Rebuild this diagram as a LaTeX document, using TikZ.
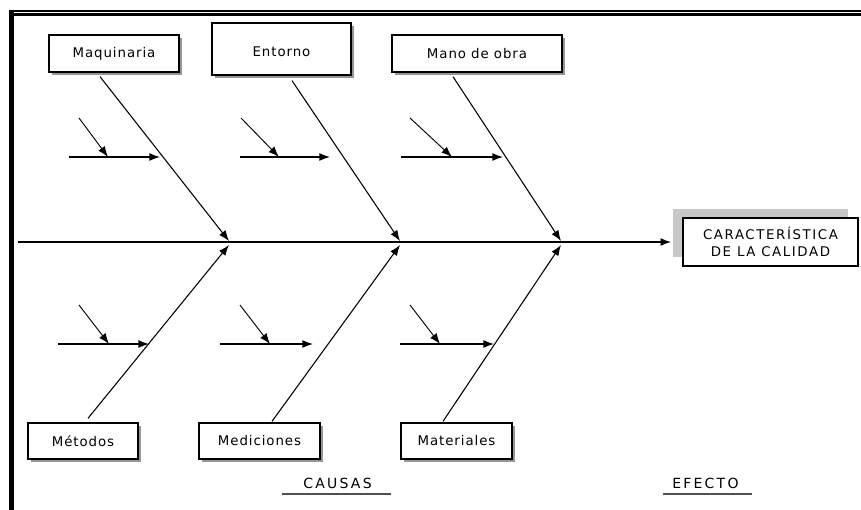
\documentclass[tikz,border=0pt]{standalone}
\usepackage{fontspec}
\setmainfont{DejaVu Sans}
\newfontfamily\boxfont[LetterSpace=7]{DejaVu Sans}
\newfontfamily\effectfont[LetterSpace=12]{DejaVu Sans}
\newfontfamily\tagfont[LetterSpace=16]{DejaVu Sans}
\usepackage{tikz}
\usetikzlibrary{arrows.meta,calc,shadows}
\definecolor{shade}{RGB}{150,150,150}
\definecolor{pale}{RGB}{200,200,200}
\definecolor{rule}{RGB}{80,80,80}

\begin{document}
\begin{tikzpicture}[x=0.75pt,y=-0.75pt,
  cause/.style={draw, line width=1pt, fill=white, inner sep=0pt,
    font=\boxfont\fontsize{10}{12}\selectfont,
    drop shadow={shadow xshift=2.2pt, shadow yshift=-2.2pt, fill=shade, opacity=1}},
  bone/.style={line width=0.8pt, -{Latex[length=8pt,width=6pt]}},
  subbone/.style={line width=1pt, -{Latex[length=8pt,width=6pt]}},
  twig/.style={line width=0.7pt, -{Latex[length=8pt,width=6pt]}}]
  \useasboundingbox (0,0) rectangle (861,510);
  %% 1. Frame
  \draw[line width=0.8pt] (10,11) -- (861,11);
  \draw[line width=2pt] (10,14.2) -- (861,14.2);
  \draw[line width=3.5pt] (11.5,10) -- (11.5,510);

  %% 2. Boxes
  \node[cause, minimum width=97.5pt, minimum height=27.75pt] (maq) at (114,53.5) {Maquinaria};
  \node[cause, minimum width=104.25pt, minimum height=39pt] (ent) at (281.5,49) {\raisebox{-6pt}[0pt][0pt]{Entorno}};
  \node[cause, minimum width=127.5pt, minimum height=27.75pt] (mano) at (477,53.5) {Mano de obra};
  \node[cause, minimum width=82.5pt, minimum height=27pt] (met) at (83,441) {Métodos\hspace{8pt}};
  \node[cause, minimum width=90.75pt, minimum height=27pt] (med) at (259.5,441) {Mediciones\hspace{4pt}};
  \node[cause, minimum width=83.25pt, minimum height=27pt] (mat) at (456.5,441) {Materiales};
  \node[draw, line width=1.2pt, fill=white, inner sep=0pt, align=center,
    minimum width=131.25pt, minimum height=36pt,
    font=\effectfont\fontsize{10}{13}\selectfont,
    drop shadow={shadow xshift=-7.5pt, shadow yshift=6.5pt, fill=pale, opacity=1}]
    (eff) at (770.5,242) {CARACTERÍSTICA\\DE LA CALIDAD};

  %% 3. Spine and bones
  \coordinate (tail) at (18,242);
  \coordinate (j1) at (229,241);
  \coordinate (j2) at (400,241);
  \coordinate (j3) at (561,241);
  \draw[line width=1.2pt, -{Latex[length=8pt,width=6pt]}] (tail) -- ($(eff.west)+(-11,0)$);
  \draw[bone] ($(maq.south)+(-14,4)$) -- (j1);
  \draw[bone] ($(ent.south)+(10.5,5)$) -- (j2);
  \draw[bone] ($(mano.south)+(-24,4)$) -- (j3);
  \draw[bone] ($(met.north)+(5,-4)$) -- ($(j1)+(0,4)$);
  \draw[bone] ($(med.north)+(12.5,-1)$) -- ($(j2)+(0,4)$);
  \draw[bone] ($(mat.north)+(-13.5,-1)$) -- ($(j3)+(0,4)$);

  %% 4. Sub-causes
  \foreach \hx/\hy/\hend/\dx/\dy/\dend in {69/157/160/79/118/108, 240/157/330/241/118/279,
      401/157/503/410/118/452, 58/344/149/79/305/109, 220/344/313/240/305/270,
      400/344/494/410/305/440}{
    \draw[subbone] (\hx,\hy) -- (\hend,\hy);
    \draw[twig] (\dx,\dy) -- (\dend,\hy);
  }

  %% 5. Labels
  \node[anchor=base west, inner sep=0pt, font=\tagfont\fontsize{10.5}{12}\selectfont] (causas) at (303,488) {CAUSAS};
  \node[anchor=base west, inner sep=0pt, font=\tagfont\fontsize{10.5}{12}\selectfont] (efecto) at (672,488) {EFECTO};
  \draw[rule, line width=1.3pt] (282,494) -- (391,494);
  \draw[rule, line width=1.3pt] (663,494) -- (752,494);
\end{tikzpicture}
\end{document}
